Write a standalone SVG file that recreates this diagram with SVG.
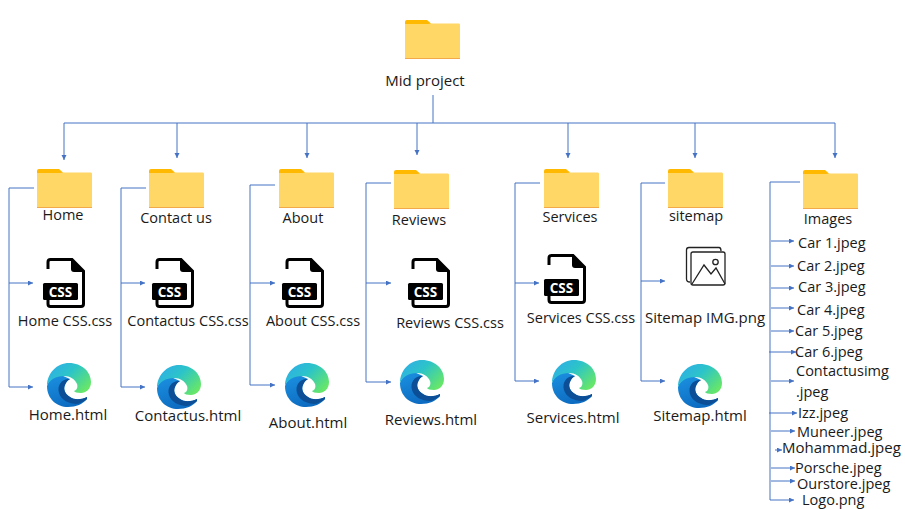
<svg xmlns="http://www.w3.org/2000/svg" width="905" height="509" viewBox="0 0 905 509">
<style>
text{font-family:"Open Sans","Noto Sans","Liberation Sans",sans-serif;font-size:14.5px;fill:#1a1a1a}
.m{text-anchor:middle}
.w{font-size:15px}
.c{fill:none;stroke:#4472c4;stroke-width:1}
.a{marker-end:url(#ah)}
</style>
<defs>
<marker id="ah" markerWidth="6" markerHeight="6" refX="5" refY="2.500" orient="auto" markerUnits="userSpaceOnUse"><path d="M0 0L5 2.500L0 5Z" fill="#4472c4"/></marker>
<linearGradient id="e1" x1="0" y1="0" x2="1" y2="0.7"><stop offset="0" stop-color="#2fa9ee"/><stop offset="0.5" stop-color="#2cc4c8"/><stop offset="1" stop-color="#66e66a"/></linearGradient>
<linearGradient id="e2" x1="0.2" y1="0" x2="0.6" y2="1"><stop offset="0" stop-color="#1b8fdf"/><stop offset="1" stop-color="#0c6ac0"/></linearGradient>
<symbol id="folder" width="55" height="39" overflow="visible">
<path d="M0 2Q0 0 2 0H22L26 3.500L22 7H0Z" fill="#ffb900"/>
<path d="M0 4H23L26 3.500H54Q55 3.500 55 5V38.500H0Z" fill="#ffd766"/>
<path d="M0 38H55V39H0Z" fill="#f2a94a"/>
</symbol>
<symbol id="css" width="42" height="50" overflow="visible">
<path d="M4 11V4Q4 1.500 6.500 1.500H28L39.500 13V46Q39.500 48.500 37 48.500H6.500Q4 48.500 4 46V38" fill="#fff" stroke="#000" stroke-width="3"/>
<path d="M27 1.500V11Q27 14 30 14H39.500Z" fill="#000"/>
<rect x="-1" y="25" width="35" height="17" rx="1.500" fill="#000"/>
<text x="16.500" y="38.500" text-anchor="middle" style="font-family:'Open Sans',sans-serif;font-size:13.500px;font-weight:700;fill:#fff">CSS</text>
</symbol>
<symbol id="edge" width="44" height="44" overflow="visible">
<path d="M0 23C0 36 10 44 21 44C29 44 36 41 40 36L40 34C34 37 27 37 23 34C18 31 16 26 18 22C19 19 21 17 23 16L14 12C7 12 2 17 0 23Z" fill="url(#e2)"/>
<path d="M22 16C14 16 10 23 12 30C14 37 22 41 30 41C33.500 40 37 38.500 40 36L40 34C34 37 27 37 23 34C18 31 16 26 18 22C19 19 21 17 23 16Z" fill="#0c4f96"/>
<path d="M0 23C0 10 10 0 22 0C35 0 44 9 44 19C44 26 39 30 34 30C30 30 27.500 29 27 28C30 27 31 24 30 21C28 16 23 13 17 13C9 13 2 17 0 23Z" fill="url(#e1)"/>
</symbol>
</defs>
<g id="connectors">
<path class="c" d="M433 95V123M64 123H835"/>
<path class="c a" d="M64 123V160"/><path class="c a" d="M177 123V158"/><path class="c a" d="M307 123V158"/><path class="c a" d="M417 123V155"/><path class="c a" d="M568 123V158"/><path class="c a" d="M695 123V158"/><path class="c a" d="M835 123V158"/>
<path class="c a" d="M34 188H9V387H33"/><path class="c a" d="M9 283H33"/>
<path class="c a" d="M146 188H121V387H145"/><path class="c a" d="M121 283H145"/>
<path class="c a" d="M275 185H250V385H275"/><path class="c a" d="M250 283H275"/>
<path class="c a" d="M391 183H366V382H391"/><path class="c a" d="M366 283H391"/>
<path class="c a" d="M540 183H515V381H539"/><path class="c a" d="M515 283H539"/>
<path class="c a" d="M665 183H641V381H665"/><path class="c a" d="M641 281H665"/>
<path class="c a" d="M800 182H770V500H794"/>
<path class="c a" d="M771 241H794"/><path class="c a" d="M771 266H794"/><path class="c a" d="M771 288H794"/><path class="c a" d="M771 308H794"/><path class="c a" d="M771 331H794"/><path class="c a" d="M769 352H796"/><path class="c a" d="M771 381H794"/><path class="c a" d="M769 413H797"/><path class="c a" d="M771 431H795"/><path class="c a" d="M775 450H782"/><path class="c a" d="M771 468H795"/><path class="c a" d="M771 481H795"/>
</g>
<g id="mid-project"><use href="#folder" x="405" y="20"/><text class="m w" x="425" y="86">Mid project</text></g>
<g id="home"><use href="#folder" x="37" y="169"/><text class="m" x="63" y="220">Home</text></g>
<g id="home-css"><use href="#css" x="44" y="258"/><text class="m" x="65" y="326">Home CSS.css</text></g>
<g id="home-html"><use href="#edge" x="47" y="363"/><text class="m w" x="68" y="420">Home.html</text></g>
<g id="contact"><use href="#folder" x="149" y="169"/><text class="m" x="176" y="223">Contact us</text></g>
<g id="contact-css"><use href="#css" x="153" y="258"/><text class="m" x="188" y="326">Contactus CSS.css</text></g>
<g id="contact-html"><use href="#edge" x="157" y="365"/><text class="m w" x="188" y="421">Contactus.html</text></g>
<g id="about"><use href="#folder" x="279" y="169"/><text class="m" x="303" y="223">About</text></g>
<g id="about-css"><use href="#css" x="283" y="258"/><text class="m" x="313" y="326">About CSS.css</text></g>
<g id="about-html"><use href="#edge" x="285" y="363"/><text class="m w" x="308" y="428">About.html</text></g>
<g id="reviews"><use href="#folder" x="394" y="170"/><text class="m" x="419" y="225">Reviews</text></g>
<g id="reviews-css"><use href="#css" x="409" y="258"/><text class="m" x="450" y="328">Reviews CSS.css</text></g>
<g id="reviews-html"><use href="#edge" x="400" y="360"/><text class="m w" x="431" y="425">Reviews.html</text></g>
<g id="services"><use href="#folder" x="544" y="169"/><text class="m" x="570" y="222">Services</text></g>
<g id="services-css"><use href="#css" x="545" y="254"/><text class="m" x="581" y="323">Services CSS.css</text></g>
<g id="services-html"><use href="#edge" x="552" y="360"/><text class="m w" x="573" y="423">Services.html</text></g>
<g id="sitemap"><use href="#folder" x="668" y="169"/><text class="m" x="696" y="221">sitemap</text></g>
<g id="sitemap-img">
<g fill="none" stroke="#222" stroke-width="1.300"><path d="M690 282Q686.500 282 686.500 279V250Q686.500 247.500 689 247.500H719Q721 247.500 721 251"/><rect x="691" y="252" width="34" height="33" rx="2" fill="#fff"/><path d="M692 284L704 265L711 274L716 268L725 284"/><circle cx="715.500" cy="262" r="2.700"/></g>
<text class="m w" x="705" y="323">Sitemap IMG.png</text></g>
<g id="sitemap-html"><use href="#edge" x="678" y="364"/><text class="m w" x="700" y="421">Sitemap.html</text></g>
<g id="images"><use href="#folder" x="803" y="170"/><text class="m" x="828" y="224">Images</text></g>
<g id="images-files">
<text x="798" y="248">Car 1.jpeg</text>
<text x="797" y="271">Car 2.jpeg</text>
<text x="798" y="292">Car 3.jpeg</text>
<text x="797" y="315">Car 4.jpeg</text>
<text x="795" y="336">Car 5.jpeg</text>
<text x="795" y="357">Car 6.jpeg</text>
<text x="796" y="376">Contactusimg</text>
<text x="796" y="397">.jpeg</text>
<text x="798" y="418">Izz.jpeg</text>
<text x="797" y="437">Muneer.jpeg</text>
<text class="w" x="782" y="453">Mohammad.jpeg</text>
<text x="795" y="473">Porsche.jpeg</text>
<text x="797" y="489">Ourstore.jpeg</text>
<text x="802" y="505">Logo.png</text>
</g>
</svg>
